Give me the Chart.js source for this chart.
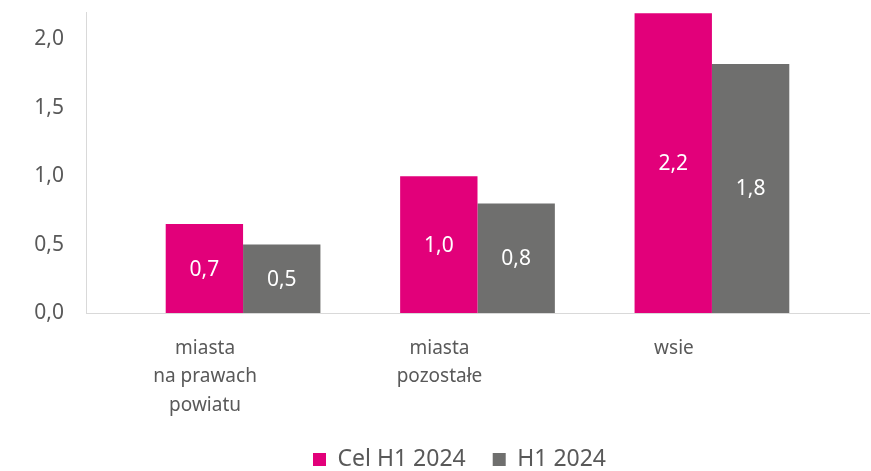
<!DOCTYPE html>
<html>
<head>
<meta charset="utf-8">
<script src="https://cdn.jsdelivr.net/npm/chart.js@4.4.1/dist/chart.umd.min.js"></script>
<style>
    html, body { margin: 0; padding: 0; background: #fff; }
    #wrap { width: 871px; height: 471px; }
</style>
</head>
<body>
<div id="wrap"><canvas id="mainChart"></canvas></div>
<script>
const categories = [['miasta', 'na prawach', 'powiatu'], ['miasta', 'pozostałe'], ['wsie']]
const celH1 = [0.65, 1.0, 2.19]
const h1 = [0.5, 0.8, 1.82]
const yTicks = [0, 0.5, 1.0, 1.5, 2.0]

const PINK = '#E2007A'
const GREY = '#6F6F6E'
const TEXT = '#595959'
const FONT = '"Noto Sans", sans-serif'

const fmt = v => v.toFixed(1).replace('.', ',')

// white value labels in the middle of each bar
const barLabels = {
    id: 'barLabels',
    afterDatasetsDraw(chart) {
        const ctx = chart.ctx
        ctx.save()
        ctx.fillStyle = '#fff'
        ctx.font = '21px ' + FONT
        ctx.textAlign = 'center'
        ctx.textBaseline = 'middle'
        chart.data.datasets.forEach((ds, i) => {
            chart.getDatasetMeta(i).data.forEach((bar, j) => {
                ctx.fillText(fmt(ds.data[j].y), bar.x, (bar.y + bar.base) / 2 + 1)
            })
        })
        ctx.restore()
    }
}

// legend sits a bit right of the canvas centre
const legendShift = {
    id: 'legendShift',
    afterLayout(chart) {
        chart.legend.left += 25
        chart.legend.right += 25
    }
}

const toPoints = arr => arr.map((v, i) => ({ x: i, y: v }))

new Chart('mainChart', {
    type: 'bar',
    data: {
        datasets: [
            { label: 'Cel H1 2024', data: toPoints(celH1), backgroundColor: PINK, borderWidth: 0 },
            { label: 'H1 2024', data: toPoints(h1), backgroundColor: GREY, borderWidth: 0 }
        ]
    },
    options: {
        responsive: true,
        maintainAspectRatio: false,
        animation: false,
        devicePixelRatio: 1,
        categoryPercentage: 0.66,
        barPercentage: 1.0,
        layout: { padding: { top: 12, right: 2, left: 0, bottom: -10 } },
        plugins: {
            tooltip: { enabled: false },
            legend: {
                position: 'bottom',
                labels: {
                    boxWidth: 13,
                    boxHeight: 13,
                    padding: 27,
                    color: TEXT,
                    font: { family: FONT, size: 23 }
                }
            }
        },
        scales: {
            x: {
                type: 'linear',
                offset: false,
                min: -0.67,
                max: 2.67,
                grid: { display: false },
                border: { display: true, color: '#D9D9D9', width: 1 },
                afterBuildTicks: scale => { scale.ticks = categories.map((c, i) => ({ value: i })) },
                afterFit: scale => {
                    scale.height = 108
                    scale.paddingLeft = 0
                    scale.paddingRight = 0
                },
                ticks: {
                    padding: 13,
                    labelOffset: -38,
                    maxRotation: 0,
                    color: TEXT,
                    font: { family: FONT, size: 19, lineHeight: 1.5 },
                    callback: v => categories[v]
                }
            },
            y: {
                min: 0,
                max: 2.2,
                grid: { display: false },
                border: { display: true, color: '#D9D9D9', width: 1 },
                afterBuildTicks: scale => { scale.ticks = yTicks.map(v => ({ value: v })) },
                afterFit: scale => {
                    scale.width = 86
                    scale.paddingTop = 0
                    scale.paddingBottom = 0
                },
                ticks: {
                    padding: 14,
                    color: TEXT,
                    font: { family: FONT, size: 21 },
                    callback: v => fmt(v)
                }
            }
        }
    },
    plugins: [barLabels, legendShift]
})
</script>
</body>
</html>
